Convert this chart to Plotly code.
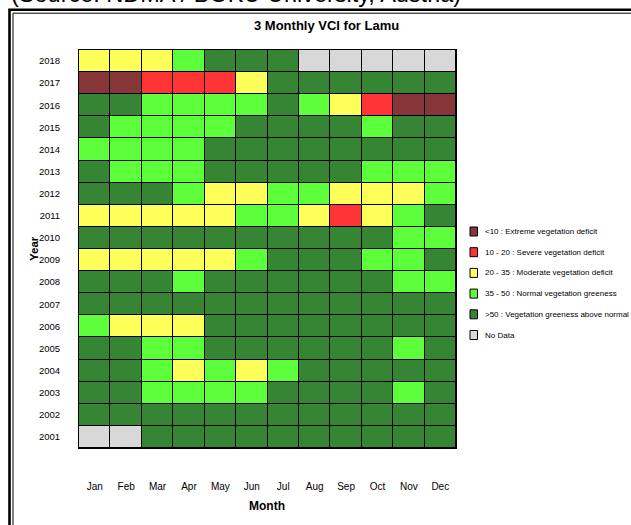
import plotly.graph_objects as go

months = ["Jan", "Feb", "Mar", "Apr", "May", "Jun", "Jul", "Aug", "Sep", "Oct", "Nov", "Dec"]
years = [str(y) for y in range(2001, 2019)]

# VCI class per cell: 0 <10, 1 10-20, 2 20-35, 3 35-50, 4 >50, 5 no data
vci_2001 = [5, 5, 4, 4, 4, 4, 4, 4, 4, 4, 4, 4]
vci_2002 = [4, 4, 4, 4, 4, 4, 4, 4, 4, 4, 4, 4]
vci_2003 = [4, 4, 3, 3, 3, 3, 4, 4, 4, 4, 3, 4]
vci_2004 = [4, 4, 3, 2, 3, 2, 3, 4, 4, 4, 4, 4]
vci_2005 = [4, 4, 3, 3, 4, 4, 4, 4, 4, 4, 3, 4]
vci_2006 = [3, 2, 2, 2, 4, 4, 4, 4, 4, 4, 4, 4]
vci_2007 = [4, 4, 4, 4, 4, 4, 4, 4, 4, 4, 4, 4]
vci_2008 = [4, 4, 4, 3, 4, 4, 4, 4, 4, 4, 3, 3]
vci_2009 = [2, 2, 2, 2, 2, 3, 4, 4, 4, 3, 3, 4]
vci_2010 = [4, 4, 4, 4, 4, 4, 4, 4, 4, 4, 3, 3]
vci_2011 = [2, 2, 2, 2, 2, 3, 3, 2, 1, 2, 3, 4]
vci_2012 = [4, 4, 4, 3, 2, 2, 3, 3, 2, 2, 2, 3]
vci_2013 = [4, 3, 3, 3, 4, 4, 4, 4, 4, 3, 3, 3]
vci_2014 = [3, 3, 3, 3, 4, 4, 4, 4, 4, 4, 4, 4]
vci_2015 = [4, 3, 3, 3, 3, 4, 4, 4, 4, 3, 4, 4]
vci_2016 = [4, 4, 3, 3, 3, 3, 4, 3, 2, 1, 0, 0]
vci_2017 = [0, 0, 1, 1, 1, 2, 4, 4, 4, 4, 4, 4]
vci_2018 = [2, 2, 2, 3, 4, 4, 4, 5, 5, 5, 5, 5]

class_colors = ["#863538", "#FF3535", "#FFFF5A", "#5CFF3A", "#358535", "#D8D8D8"]
class_labels = [
    "<10 : Extreme vegetation deficit",
    "10 - 20 : Severe vegetation deficit",
    "20 - 35 : Moderate vegetation deficit",
    "35 - 50 : Normal vegetation greeness",
    ">50 : Vegetation greeness above normal",
    "No Data",
]

z = [vci_2001, vci_2002, vci_2003, vci_2004, vci_2005, vci_2006, vci_2007, vci_2008, vci_2009,
     vci_2010, vci_2011, vci_2012, vci_2013, vci_2014, vci_2015, vci_2016, vci_2017, vci_2018]

n = len(class_colors)
colorscale = []
for i, c in enumerate(class_colors):
    colorscale.append([i / n, c])
    colorscale.append([(i + 1) / n, c])

W, H = 631, 525
L, R, T, B = 79, 456, 50, 448
pw, ph = R - L, B - T


def px(x):
    return (x - L) / pw


def py(y):
    return (B - y) / ph


FONT = "Liberation Sans, Arial, sans-serif"

fig = go.Figure(go.Heatmap(
    z=z, x=months, y=years, colorscale=colorscale, zmin=-0.5, zmax=n - 0.5,
    showscale=False, xgap=1, ygap=1, hoverinfo="skip",
))

shapes = []
annotations = []

# legend
leg_y0 = 231.5
leg_step = 20.7
for i, (c, lab) in enumerate(zip(class_colors, class_labels)):
    yc = leg_y0 + i * leg_step
    shapes.append(dict(type="rect", xref="paper", yref="paper",
                       x0=px(470), x1=px(477.5), y0=py(yc + 4.5), y1=py(yc - 4.5),
                       fillcolor=c, line=dict(color="black", width=1)))
    annotations.append(dict(text=lab, xref="paper", yref="paper", x=px(483), y=py(yc),
                            xanchor="left", yanchor="middle", showarrow=False,
                            font=dict(family=FONT, size=8, color="black")))

# outer frame
shapes.append(dict(type="rect", xref="paper", yref="paper",
                   x0=px(9.5), x1=px(700), y0=py(700), y1=py(9.8),
                   line=dict(color="black", width=2.6), fillcolor="rgba(0,0,0,0)"))
shapes.append(dict(type="rect", xref="paper", yref="paper",
                   x0=px(13), x1=px(700), y0=py(700), y1=py(13.2),
                   line=dict(color="black", width=1), fillcolor="rgba(0,0,0,0)"))

# clipped source text at very top
annotations.append(dict(text="(Source: NDMA / BOKU University, Austria)", xref="paper", yref="paper",
                        x=px(9), y=py(-6), xanchor="left", yanchor="middle", showarrow=False,
                        font=dict(family=FONT, size=23.5, color="black")))

# title
annotations.append(dict(text="<b>3 Monthly VCI for Lamu</b>", xref="paper", yref="paper",
                        x=px(326), y=py(25), xanchor="center", yanchor="middle", showarrow=False,
                        font=dict(family=FONT, size=13, color="black")))
# axis titles
annotations.append(dict(text="<b>Month</b>", xref="paper", yref="paper",
                        x=px(267), y=py(506), xanchor="center", yanchor="middle", showarrow=False,
                        font=dict(family=FONT, size=12, color="black")))
annotations.append(dict(text="<b>Year</b>", xref="paper", yref="paper",
                        x=px(34), y=py(249), xanchor="center", yanchor="middle", showarrow=False,
                        textangle=-90, font=dict(family=FONT, size=11.5, color="black")))

fig.update_layout(
    width=W, height=H,
    margin=dict(l=L, r=W - R, t=T, b=H - B, pad=0),
    paper_bgcolor="white",
    plot_bgcolor="black",
    shapes=shapes,
    annotations=annotations,
    showlegend=False,
)
fig.update_xaxes(type="category", showgrid=False, zeroline=False, ticks="", ticklabelstandoff=29,
                 tickfont=dict(family=FONT, size=10, color="black"),
                 showline=True, linecolor="black", linewidth=1, mirror=True, fixedrange=True)
fig.update_yaxes(type="category", showgrid=False, zeroline=False, ticks="", ticklabelstandoff=16,
                 tickfont=dict(family=FONT, size=9.5, color="black"),
                 showline=True, linecolor="black", linewidth=1, mirror=True, fixedrange=True)

fig.write_html("out.html", config={"displayModeBar": False},
               post_script="document.body.style.margin='0px';document.body.style.overflow='hidden';")
